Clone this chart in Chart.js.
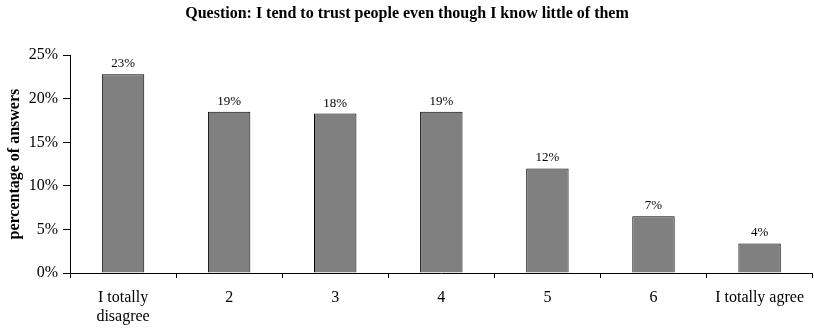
<!DOCTYPE html>
<html>
<head>
<meta charset="utf-8">
<script src="https://cdn.jsdelivr.net/npm/chart.js@4"></script>
<style>
html,body{margin:0;padding:0;background:#fff;}
#wrap{width:814px;height:331px;position:relative;}
</style>
</head>
<body>
<div id="wrap"><canvas id="c" width="814" height="331"></canvas></div>
<script>
const categories = [["I totally","disagree"], "2", "3", "4", "5", "6", "I totally agree"];
const shares = [22.8, 18.5, 18.3, 18.5, 12.0, 6.5, 3.4];
const shareLabels = ["23%", "19%", "18%", "19%", "12%", "7%", "4%"];
const yTicks = [0, 5, 10, 15, 20, 25];

const SERIF = "'Liberation Serif', 'DejaVu Serif', serif";

const labelPlugin = {
  id: 'barLabels',
  afterDatasetsDraw(chart) {
    const ctx = chart.ctx;
    const meta = chart.getDatasetMeta(0);
    ctx.save();
    ctx.font = "13px " + SERIF;
    ctx.fillStyle = "#000";
    ctx.textAlign = "center";
    ctx.textBaseline = "alphabetic";
    meta.data.forEach((bar, i) => {
      ctx.fillText(shareLabels[i], bar.x, bar.y - 7);
    });
    ctx.restore();
  }
};

new Chart(document.getElementById('c'), {
  type: 'bar',
  data: {
    labels: categories,
    datasets: [{
      data: shares,
      backgroundColor: '#808080',
      borderColor: '#000',
      borderWidth: 1,
      categoryPercentage: 1.0,
      barPercentage: 0.4
    }]
  },
  options: {
    responsive: false,
    animation: false,
    devicePixelRatio: 1,
    layout: { padding: { top: 0, right: 0, left: 0, bottom: 0 } },
    plugins: {
      legend: { display: false },
      tooltip: { enabled: false },
      title: {
        display: true,
        text: 'Question: I tend to trust people even though I know little of them',
        color: '#000',
        font: { family: SERIF, size: 16, weight: 'bold' },
        padding: { top: 4, bottom: 32 }
      }
    },
    scales: {
      x: {
        offset: true,
        grid: { display: true, offset: true, drawOnChartArea: false, drawTicks: true, tickLength: 5, color: '#000' },
        border: { display: true, color: '#000', width: 1 },
        ticks: { color: '#000', font: { family: SERIF, size: 16 }, padding: 10, maxRotation: 0, autoSkip: false },
        afterFit(scale) { scale.height = 58; }
      },
      y: {
        min: 0, max: 25,
        afterBuildTicks(scale) { scale.ticks = yTicks.map(v => ({ value: v })); },
        grid: { display: true, drawOnChartArea: false, drawTicks: true, tickLength: 7, color: '#000' },
        border: { display: true, color: '#000', width: 1 },
        ticks: { color: '#000', font: { family: SERIF, size: 16 }, padding: 5, callback: v => v + '%' },
        title: { display: true, text: 'percentage of answers', color: '#000', font: { family: SERIF, size: 16, weight: 'bold' }, padding: { top: 5, bottom: 0 } },
        afterFit(scale) { scale.width = 70; }
      }
    }
  },
  plugins: [labelPlugin]
});
</script>
</body>
</html>
